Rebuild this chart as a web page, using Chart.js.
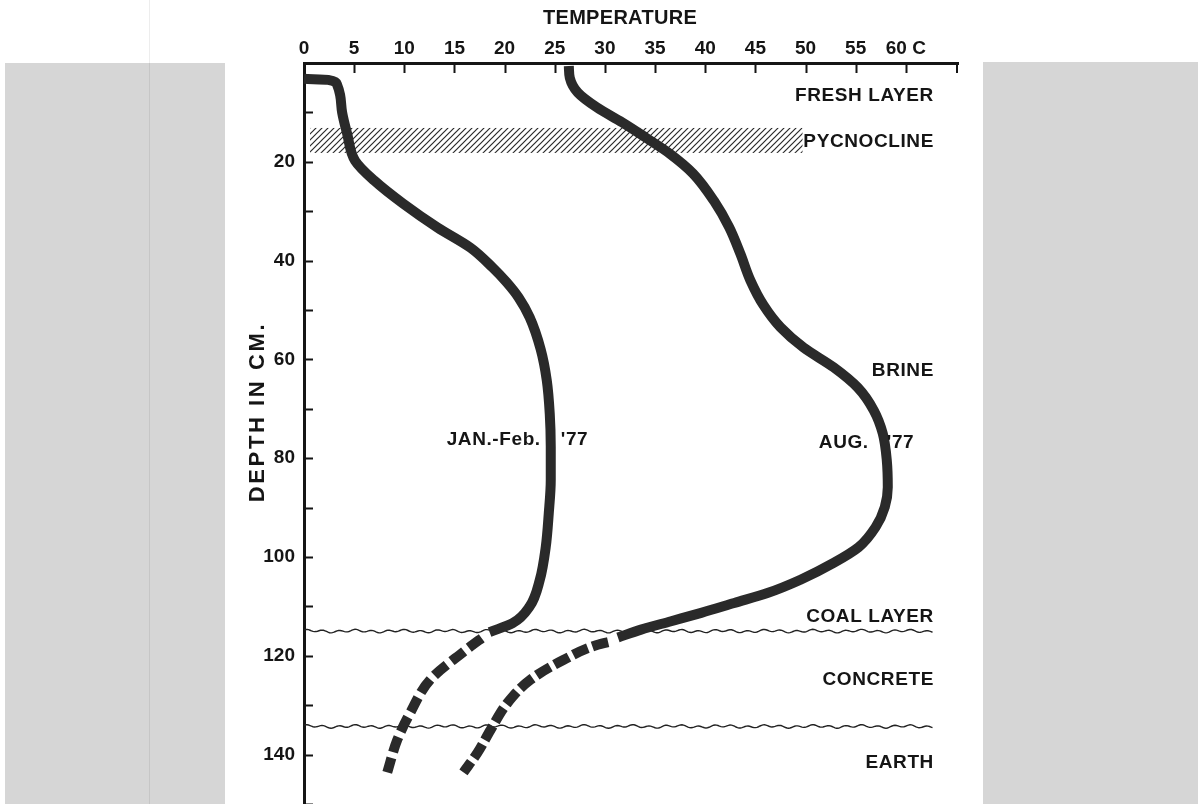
<!DOCTYPE html>
<html>
<head>
<meta charset="utf-8">
<script src="https://cdn.jsdelivr.net/npm/chart.js@4.4.1/dist/chart.umd.min.js"></script>
<style>
  html, body { margin: 0; padding: 0; background: #fff; }
  canvas { display: block; }
</style>
</head>
<body>
<canvas id="chart" width="1198" height="804"></canvas>
<script>
// temperature (C) vs depth (cm)
const janTemp  = [0, 2.4, 3.3, 3.6, 3.8, 4.3, 5.1, 7.0, 9.9, 13.3, 16.6, 18.8, 20.2, 21.4, 22.5, 23.6, 24.2, 24.5, 24.6, 24.6, 24.4, 24.1, 23.5, 22.5, 20.8, 18.5];
const janDepth = [3.2, 3.4, 4.4, 6.5, 10, 14.3, 19.8, 23.8, 28.5, 33.3, 37.4, 41.4, 44.4, 47.5, 51.5, 58, 64.2, 71, 77.7, 84.4, 91.2, 98, 104.7, 110, 113.4, 115.2];
const janEstTemp  = [18.2, 15.9, 12.6, 10.6, 9.3, 8.3];
const janEstDepth = [115.7, 119.2, 124.8, 131.5, 137, 143.6];

const augTemp  = [26.4, 26.5, 27.3, 29.2, 31.7, 34.0, 36.5, 38.8, 40.9, 42.4, 43.5, 44.5, 45.8, 47.5, 49.8, 52.8, 55.2, 56.8, 57.7, 58.1, 58.2, 57.9, 57.0, 55.3, 52.8, 49.5, 46.2, 42.9, 39.6, 36.6, 33.6, 31.3];
const augDepth = [0.6, 3, 6, 9, 12, 15, 18.4, 22.4, 28, 33.3, 38.6, 44, 49, 53.5, 57.6, 61.6, 65.7, 70.3, 75, 80.4, 85.9, 89.9, 93.9, 98, 101.2, 104.6, 107.3, 109.3, 111.3, 113, 114.7, 116.3];
const augEstTemp  = [30.8, 29.2, 25.9, 22.6, 20.3, 18.6, 17.3, 15.9];
const augEstDepth = [117.0, 117.8, 120.8, 124.8, 129.5, 135, 139.6, 143.6];

// layers
const pycnoTemp  = [0.6, 49.7];
const pycnoDepth = [13.15, 18.2];
const boundaryDepth = [115.0, 134.3];
const boundaryTemp  = [0, 62.8];

const layerLabels = ['FRESH LAYER', 'PYCNOCLINE', 'BRINE', 'COAL LAYER', 'CONCRETE', 'EARTH'];
const layerLabelDepth = [6.7, 15.9, 62.2, 112.1, 124.8, 141.6];
const layerLabelTemp = 62.8;

const seriesLabels = [['JAN.-Feb.', "'77"], ['AUG.', "'77"]];
const seriesLabelTemp = [[23.6, 25.6], [56.3, 58.1]];
const seriesLabelDepth = [76.2, 76.8];

const xTitle = 'TEMPERATURE';
const yTitle = 'DEPTH IN CM.';

const pts = (xs, ys) => xs.map((x, i) => ({ x: x, y: ys[i] }));
const INK = '#151515';
const CURVE = '#2a2a2a';
const FONT = '"Liberation Sans", Arial, sans-serif';

function hatchPattern(ctx) {
    const c = document.createElement('canvas');
    c.width = 6; c.height = 6;
    const p = c.getContext('2d');
    p.strokeStyle = '#2a2a2a';
    p.lineWidth = 1.2;
    p.beginPath();
    p.moveTo(-1, 7); p.lineTo(7, -1);
    p.moveTo(-4, 4); p.lineTo(4, -4);
    p.moveTo(2, 10); p.lineTo(10, 2);
    p.stroke();
    return ctx.createPattern(c, 'repeat');
}

function wavy(ctx, x0, x1, y) {
    ctx.beginPath();
    for (let x = x0; x <= x1; x += 1.5) {
        const dy = Math.sin(x / 2.6) * 1.1 + Math.sin(x / 7.3) * 0.7;
        if (x === x0) ctx.moveTo(x, y + dy); else ctx.lineTo(x, y + dy);
    }
    ctx.stroke();
}

const decor = {
    id: 'decor',
    beforeDraw(chart) {
        const ctx = chart.ctx;
        ctx.save();
        ctx.fillStyle = '#fff';
        ctx.fillRect(0, 0, chart.width, chart.height);
        ctx.fillStyle = '#d6d6d6';
        ctx.fillRect(5, 63, 220, 741);
        ctx.fillRect(983, 62, 215, 742);
        ctx.strokeStyle = 'rgba(0,0,0,0.07)';
        ctx.lineWidth = 1;
        ctx.beginPath(); ctx.moveTo(149.5, 0); ctx.lineTo(149.5, 804); ctx.stroke();
        ctx.restore();
    },
    beforeDatasetsDraw(chart) {
        const ctx = chart.ctx, xs = chart.scales.x, ys = chart.scales.y;
        ctx.save();
        // pycnocline band
        const bx0 = xs.getPixelForValue(pycnoTemp[0]), bx1 = xs.getPixelForValue(pycnoTemp[1]);
        const by0 = ys.getPixelForValue(pycnoDepth[0]), by1 = ys.getPixelForValue(pycnoDepth[1]);
        ctx.fillStyle = hatchPattern(ctx);
        ctx.fillRect(bx0, by0, bx1 - bx0, by1 - by0);
        // layer boundaries
        ctx.strokeStyle = '#222';
        ctx.lineWidth = 1.4;
        boundaryDepth.forEach(d => {
            wavy(ctx, xs.getPixelForValue(boundaryTemp[0]), xs.getPixelForValue(boundaryTemp[1]), ys.getPixelForValue(d));
        });
        ctx.restore();
    },
    afterDraw(chart) {
        const ctx = chart.ctx, xs = chart.scales.x, ys = chart.scales.y;
        const area = chart.chartArea;
        ctx.save();
        // inward ticks
        ctx.strokeStyle = INK;
        ctx.lineWidth = 2;
        ctx.beginPath();
        xs.ticks.forEach(t => {
            const v = t.value;
            if (v > 0 && v <= 60 && Math.abs(v % 5) < 1e-6) {
                const px = Math.round(xs.getPixelForValue(v)) + 0.5;
                ctx.moveTo(px, area.top); ctx.lineTo(px, area.top + 10);
            }
        });
        ctx.moveTo(area.right - 1, area.top); ctx.lineTo(area.right - 1, area.top + 10);
        ys.ticks.forEach(t => {
            const v = t.value;
            if (v > 0 && Math.abs(v % 10) < 1e-6) {
                const py = Math.round(ys.getPixelForValue(v)) + 0.5;
                ctx.moveTo(area.left, py); ctx.lineTo(area.left + 9, py);
            }
        });
        ctx.stroke();

        // titles
        ctx.fillStyle = INK;
        ctx.font = 'bold 20px ' + FONT;
        ctx.textAlign = 'center';
        ctx.textBaseline = 'middle';
        ctx.letterSpacing = '0.3px';
        ctx.fillText(xTitle, 620, 18);
        ctx.save();
        ctx.translate(258, 412);
        ctx.rotate(-Math.PI / 2);
        ctx.font = 'bold 22px ' + FONT;
        ctx.letterSpacing = '2.6px';
        ctx.fillText(yTitle, 0, 0);
        ctx.restore();

        // layer labels
        ctx.font = 'bold 19px ' + FONT;
        ctx.letterSpacing = '0.6px';
        ctx.textAlign = 'right';
        layerLabels.forEach((s, i) => {
            ctx.fillText(s, xs.getPixelForValue(layerLabelTemp), ys.getPixelForValue(layerLabelDepth[i]));
        });
        // series labels
        seriesLabels.forEach((pair, i) => {
            const y = ys.getPixelForValue(seriesLabelDepth[i]);
            ctx.textAlign = 'right';
            ctx.fillText(pair[0], xs.getPixelForValue(seriesLabelTemp[i][0]), y);
            ctx.textAlign = 'left';
            ctx.fillText(pair[1], xs.getPixelForValue(seriesLabelTemp[i][1]), y);
        });
        ctx.restore();
    }
};

const solid = { borderColor: CURVE, borderWidth: 10, pointRadius: 0, cubicInterpolationMode: 'monotone', fill: false, borderCapStyle: 'butt', borderJoinStyle: 'round', clip: false };
const dashedJan = Object.assign({}, solid, { borderDash: [16, 6], borderDashOffset: 16 });
const dashedAug = Object.assign({}, solid, { borderDash: [16, 5], borderDashOffset: 16 });

new Chart(document.getElementById('chart'), {
    type: 'line',
    data: {
        datasets: [
            Object.assign({ label: 'JAN.-Feb. 77', data: pts(janTemp, janDepth) }, solid),
            Object.assign({ label: 'JAN.-Feb. 77 (est.)', data: pts(janEstTemp, janEstDepth) }, dashedJan),
            Object.assign({ label: 'AUG. 77', data: pts(augTemp, augDepth) }, solid),
            Object.assign({ label: 'AUG. 77 (est.)', data: pts(augEstTemp, augEstDepth) }, dashedAug)
        ]
    },
    options: {
        indexAxis: 'y',
        responsive: false,
        animation: false,
        devicePixelRatio: 1,
        layout: { padding: { left: 0, right: 240, top: 0, bottom: 0 } },
        plugins: { legend: { display: false }, tooltip: { enabled: false } },
        scales: {
            x: {
                type: 'linear',
                position: 'top',
                min: 0,
                max: 65.2,
                afterFit(s) { s.height = 63; s.paddingLeft = 0; s.paddingRight = 0; },
                grid: { drawOnChartArea: false, drawTicks: false },
                border: { display: true, color: INK, width: 3 },
                ticks: {
                    stepSize: 5,
                    padding: 3,
                    color: INK,
                    font: { family: FONT, size: 19, weight: 'bold' },
                    maxRotation: 0,
                    autoSkip: false,
                    callback(v) {
                        if (v > 60.01 || Math.abs(v % 5) > 1e-6) return '';
                        return v === 60 ? '60 C' : String(v);
                    }
                }
            },
            y: {
                type: 'linear',
                position: 'left',
                reverse: true,
                min: 0,
                max: 150,
                afterFit(s) { s.width = 304; s.paddingTop = 0; s.paddingBottom = 0; },
                grid: { drawOnChartArea: false, drawTicks: false },
                border: { display: true, color: INK, width: 3 },
                ticks: {
                    stepSize: 10,
                    padding: 9,
                    color: INK,
                    font: { family: FONT, size: 19, weight: 'bold' },
                    autoSkip: false,
                    callback(v) { return (v > 0 && v % 20 === 0) ? String(v) : ''; }
                }
            }
        }
    },
    plugins: [decor]
});
</script>
</body>
</html>
